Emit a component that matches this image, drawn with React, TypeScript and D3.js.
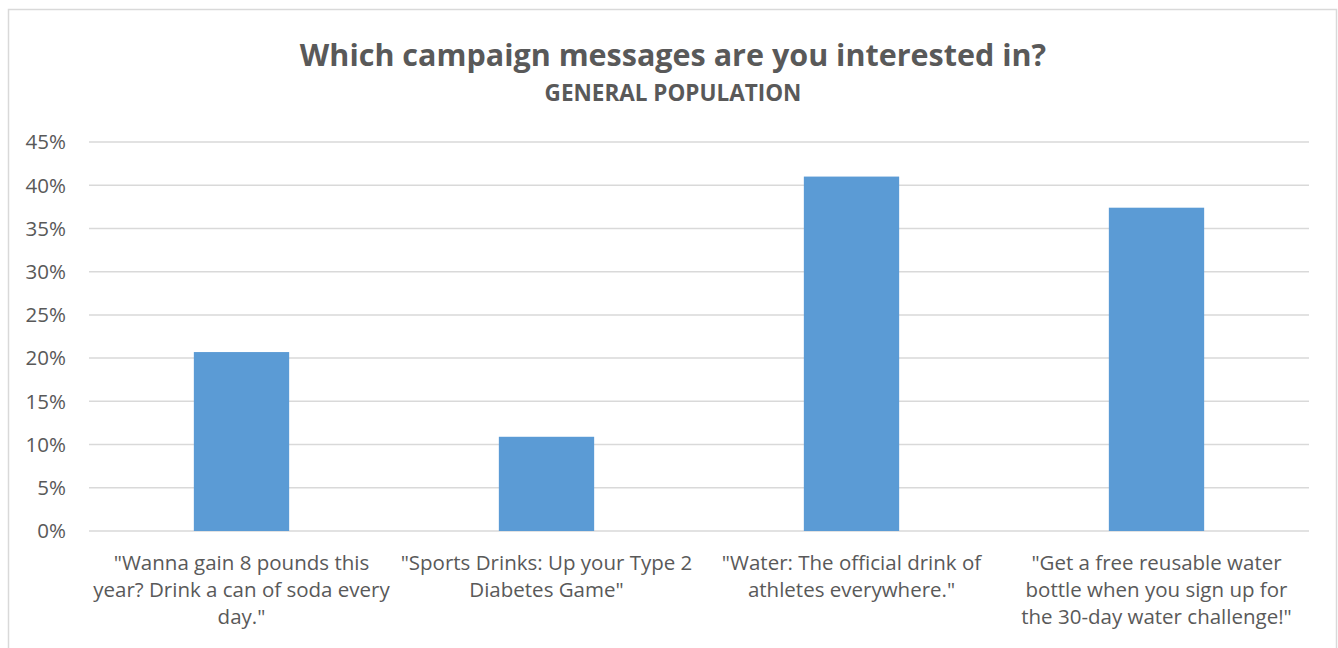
import React from "react";
import * as d3 from "d3";

// chart values
const categories = ["wanna", "sports", "water", "bottle"];
const categoryLines = [
  ['"Wanna gain 8 pounds this', 'year? Drink a can of soda every', 'day."'],
  ['"Sports Drinks: Up your Type 2', 'Diabetes Game"'],
  ['"Water: The official drink of', 'athletes everywhere."'],
  ['"Get a free reusable water', "bottle when you sign up for", 'the 30-day water challenge!"'],
];
const shares = [0.207, 0.109, 0.41, 0.374];
const yTicks = [0, 0.05, 0.1, 0.15, 0.2, 0.25, 0.3, 0.35, 0.4, 0.45];

const title = "Which campaign messages are you interested in?";
const subtitle = "GENERAL POPULATION";

const width = 1338;
const height = 648;
const margin = { top: 142, left: 89, right: 29, bottom: 117 };
const font = "'Open Sans', 'Liberation Sans', sans-serif";
const textColor = "#595959";

export default function App() {
  const iwidth = width - margin.left - margin.right;
  const iheight = height - margin.top - margin.bottom;

  const x = d3.scaleBand().domain(categories).range([0, iwidth]).padding(0);
  const y = d3.scaleLinear().domain([0, 0.45]).range([iheight, 0]);
  const barW = x.bandwidth() * 0.3125;
  const fmt = d3.format(".0%");

  return (
    <svg
      width={width}
      height={height}
      style={{ position: "absolute", left: 0, top: 0, background: "#fff" }}
    >
      <rect x={8.5} y={9.5} width={1328} height={660} fill="#fff" stroke="#d9d9d9" strokeWidth={1.5} />
      <text x={673} y={66} textAnchor="middle" fontFamily={font} fontWeight="bold" fontSize={30.5} fill={textColor}>
        {title}
      </text>
      <text x={673} y={101} textAnchor="middle" fontFamily={font} fontWeight="bold" fontSize={22.5} fill={textColor}>
        {subtitle}
      </text>
      <g transform={`translate(${margin.left},${margin.top})`}>
        {yTicks.map(t => (
          <g key={t}>
            <line x1={0} x2={iwidth} y1={y(t)} y2={y(t)} stroke="#d9d9d9" strokeWidth={1.5} />
            <text x={-23} y={y(t)} dy="0.36em" textAnchor="end" fontFamily={font} fontSize={20.5} fill={textColor}>
              {fmt(t)}
            </text>
          </g>
        ))}
        {categories.map((c, i) => (
          <rect
            key={c}
            x={(x(c) as number) + x.bandwidth() / 2 - barW / 2}
            y={y(shares[i])}
            width={barW}
            height={iheight - y(shares[i])}
            fill="#5b9bd5"
          />
        ))}
        {categories.map((c, i) => (
          <text
            key={c}
            x={(x(c) as number) + x.bandwidth() / 2}
            y={iheight + 39}
            textAnchor="middle"
            fontFamily={font}
            fontSize={20.5}
            fill={textColor}
          >
            {categoryLines[i].map((line, j) => (
              <tspan key={j} x={(x(c) as number) + x.bandwidth() / 2} dy={j === 0 ? 0 : 27}>
                {line}
              </tspan>
            ))}
          </text>
        ))}
      </g>
    </svg>
  );
}
